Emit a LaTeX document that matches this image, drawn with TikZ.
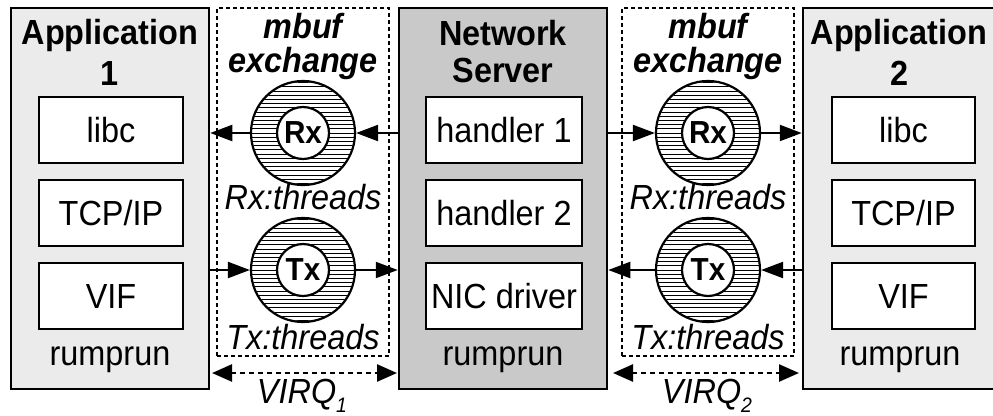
\documentclass[tikz,border=0pt]{standalone}
\usepackage{fontspec}
\setmainfont[FakeStretch=0.93]{Liberation Sans}
\usetikzlibrary{arrows.meta}
\definecolor{appgray}{HTML}{EBEBEB}
\definecolor{srvgray}{HTML}{C9C9C9}
\newcommand\hatchring[1]{%
  \begin{scope}
    \clip (#1) circle (51bp);
    \foreach \k in {-12,...,12}
      \draw[line width=0.9bp, shift={(#1)}] (-60,\k*4.2) -- (60,\k*4.2);
  \end{scope}}
\begin{document}
\begin{tikzpicture}[x=1bp,y=-1bp,
  every node/.style={font=\fontsize{35}{38}\selectfont, inner sep=0pt},
  host/.style={draw, line width=2.5bp, minimum height=381bp},
  layer/.style={draw, fill=white, line width=2.5bp, minimum height=66bp},
  xchg/.style={draw, dash pattern=on 4bp off 3bp, line width=2bp},
  ring/.style={circle, draw, fill=white, line width=2.2bp, minimum size=104bp},
  core/.style={circle, draw, fill=white, line width=2.2bp, minimum size=52bp,
    font=\fontsize{32}{34}\selectfont\bfseries},
  flow/.style={line width=2.2bp, -{Triangle[length=22bp,width=16bp]}},
  irq/.style={line width=2.5bp, dash pattern=on 5bp off 4bp,
    {Triangle[length=20bp,width=17bp]}-{Triangle[length=20bp,width=17bp]}},
  title/.style={font=\fontsize{35}{38}\selectfont\bfseries},
  xtitle/.style={font=\fontsize{35}{38}\selectfont\bfseries\itshape},
  note/.style={font=\fontsize{35}{38}\selectfont\itshape}]
\useasboundingbox (0,0) rectangle (993,415);
\clip (0,0) rectangle (993,415);

% mbuf exchange areas
\node[xchg, minimum width=172bp, minimum height=348bp] (ex1) at (303,182) {};
\node[xchg, minimum width=172bp, minimum height=348bp] (ex2) at (708,182) {};

% hosts
\node[host, fill=appgray, minimum width=198bp] (app1) at (110,198.5) {};
\node[host, fill=srvgray, minimum width=208bp] (srv) at (503,198.5) {};
\node[host, fill=appgray, minimum width=198bp] (app2) at (902,198.5) {};

% host titles
\node[title] (a1t) at (110,35) {Application};
\node[title] (a1n) at (110,73) {1};
\node[title] (srvt) at (503,33) {Network};
\node[title] (srvn) at (503,70) {Server};
\node[title] (a2t) at (899,35) {Application};
\node[title] (a2n) at (900,73) {2};

% layers
\node[layer, minimum width=144bp] (libc1) at (111,130) {libc};
\node[layer, minimum width=144bp] (tcp1) at (111,213) {TCP/IP};
\node[layer, minimum width=144bp] (vif1) at (111,296) {VIF};
\node[layer, minimum width=156bp] (h1) at (504,130) {handler 1};
\node[layer, minimum width=156bp] (h2) at (504,213) {handler 2};
\node[layer, minimum width=156bp] (nic) at (504,296) {NIC driver};
\node[layer, minimum width=143bp] (libc2) at (903.5,130) {libc};
\node[layer, minimum width=143bp] (tcp2) at (903.5,213) {TCP/IP};
\node[layer, minimum width=143bp] (vif2) at (903.5,296) {VIF};

\node (rr1) at (110,360) {rumprun};
\node (rr0) at (503,360) {rumprun};
\node (rr2) at (900,360) {rumprun};

% exchange labels
\node[xtitle, anchor=base] (mb1) at (303,38) {mbuf};
\node[xtitle, anchor=base] (xc1) at (303,72) {exchange};
\node[xtitle, anchor=base] (mb2) at (708,38) {mbuf};
\node[xtitle, anchor=base] (xc2) at (708,72) {exchange};
\node[note] (rxl1) at (303,197) {Rx:threads};
\node[note] (txl1) at (303,337) {Tx:threads};
\node[note] (rxl2) at (708,197) {Rx:threads};
\node[note] (txl2) at (708,337) {Tx:threads};

% thread rings: hatched annulus around a plain core
\node[ring] (rx1) at (303,133) {};
\hatchring{rx1}
\node[core] (rx1c) at (rx1) {Rx};
\node[ring] (tx1) at (303,270) {};
\hatchring{tx1}
\node[core] (tx1c) at (tx1) {Tx};
\node[ring] (rx2) at (708,133) {};
\hatchring{rx2}
\node[core] (rx2c) at (rx2) {Rx};
\node[ring] (tx2) at (708,270) {};
\hatchring{tx2}
\node[core] (tx2c) at (tx2) {Tx};

% packet flow
\draw[flow] (srv.west |- rx1) -- (rx1.east);
\draw[flow] (rx1.west) -- (app1.east |- rx1);
\draw[flow] (app1.east |- tx1) -- (tx1.west);
\draw[flow] (tx1.east) -- (srv.west |- tx1);
\draw[flow] (srv.east |- rx2) -- (rx2.west);
\draw[flow] (rx2.east) -- (app2.west |- rx2);
\draw[flow] (app2.west |- tx2) -- (tx2.east);
\draw[flow] (tx2.west) -- (srv.east |- tx2);

% virtual interrupts
\coordinate (v1a) at (212,373);
\coordinate (v1b) at (397,373);
\coordinate (v2a) at (613,373);
\coordinate (v2b) at (799,373);
\draw[irq] (v1a) -- (v1b);
\draw[irq] (v2a) -- (v2b);
\node[note, anchor=base] (virq1) at (302,403) {VIRQ\raisebox{-9bp}{\fontsize{21}{21}\selectfont 1}};
\node[note, anchor=base] (virq2) at (707,403) {VIRQ\raisebox{-9bp}{\fontsize{21}{21}\selectfont 2}};
\end{tikzpicture}
\end{document}
